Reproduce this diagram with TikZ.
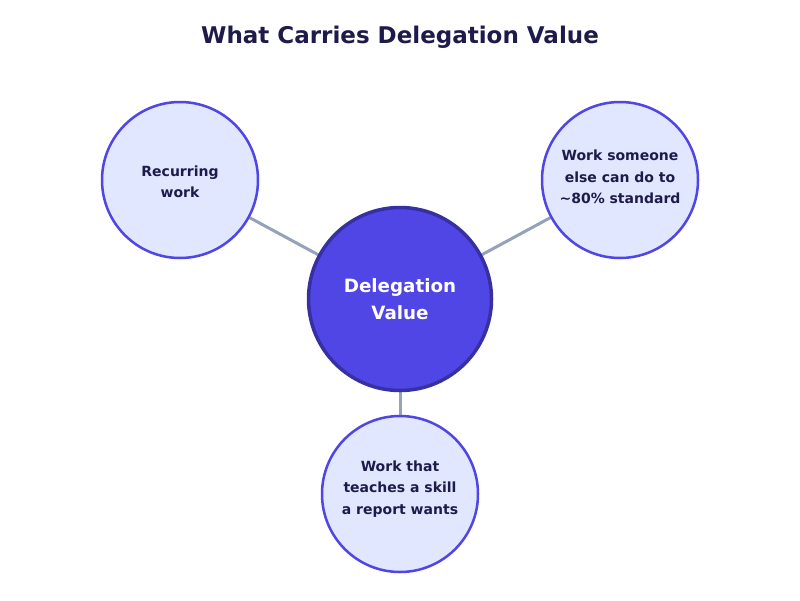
\documentclass[tikz,border=0pt]{standalone}
\usepackage{fontspec}
\setmainfont{DejaVu Sans}
\definecolor{conn}{HTML}{94A3B8}
\definecolor{outerfill}{HTML}{E0E7FF}
\definecolor{outerline}{HTML}{4F46E5}
\definecolor{centerfill}{HTML}{4F46E5}
\definecolor{centerline}{HTML}{3730A3}
\definecolor{txt}{HTML}{1E1B4B}
\begin{document}
\begin{tikzpicture}[x=1pt,y=-1pt,
  outer/.style={circle,draw=outerline,fill=outerfill,line width=2.5pt,minimum size=156pt,inner sep=0pt},
  lbl/.style={text=txt,font=\fontsize{14}{21.3}\selectfont\bfseries,align=center,inner sep=0pt},
  hub/.style={circle,draw=centerline,fill=centerfill,line width=3.5pt,minimum size=183pt,inner sep=0pt,
    text=white,font=\fontsize{18.3}{27}\selectfont\bfseries,align=center},
  link/.style={draw=conn,line width=3pt}]
\useasboundingbox[fill=white] (0,0) rectangle (800,600);
\node[font=\fontsize{23}{28}\selectfont\bfseries,text=txt] (title) at (400,37) {What Carries Delegation Value};
\coordinate (cl) at (180,180);
\coordinate (cr) at (620,180);
\coordinate (cb) at (400,494);
\coordinate (cc) at (400,299);
\draw[link] (cc) -- (cl);
\draw[link] (cc) -- (cr);
\draw[link] (cc) -- (cb);
\node[hub] (hub) at (cc) {Delegation\\Value};
\node[outer] (left) at (cl) {};
\node[outer] (right) at (cr) {};
\node[outer] (bottom) at (cb) {};
\node[lbl] (leftlbl) at ([yshift=-1.5pt]left.center) {Recurring\\work};
\node[lbl] (rightlbl) at ([yshift=3pt]right.center) {Work someone\\else can do to\\\textasciitilde80\% standard};
\node[lbl] (bottomlbl) at ([yshift=5pt]bottom.center) {Work that\\teaches a skill\\a report wants};
\end{tikzpicture}
\end{document}
